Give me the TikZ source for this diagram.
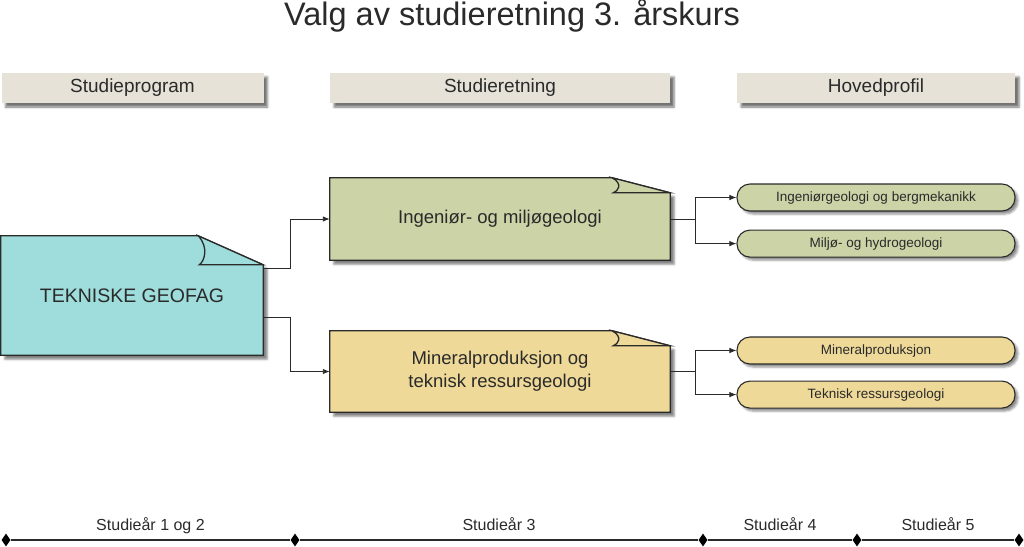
\documentclass[tikz,border=0pt]{standalone}
\usepackage{fontspec}
\setmainfont{Liberation Sans}
\usetikzlibrary{arrows.meta, positioning, shapes.geometric, shadows.blur}
\definecolor{geoteal}{HTML}{9EDDDB}
\definecolor{geoolive}{HTML}{CBD3A7}
\definecolor{geosand}{HTML}{EED999}
\definecolor{hdrbeige}{HTML}{E6E2D8}
\definecolor{inkgray}{HTML}{2A2A2A}
\tikzset{
  hbar/.style={fill=hdrbeige, minimum height=30pt, inner sep=0pt,
               font=\fontsize{19}{22}\selectfont, text=inkgray,
               blur shadow={shadow xshift=4pt, shadow yshift=-4pt,
                            shadow opacity=55, shadow blur steps=4}},
  fbox/.style={minimum height=#1, inner sep=0pt},
  ftext/.style={align=center, text=inkgray, inner sep=0pt},
  fline/.style={draw=inkgray, line width=1.3pt, line join=miter},
  pill/.style={draw=inkgray, line width=1.1pt, rounded corners=13pt,
               minimum width=278pt, minimum height=27pt, inner sep=0pt,
               font=\fontsize{13.5}{16}\selectfont, text=inkgray,
               text height=10pt, text depth=2pt,
               blur shadow={shadow xshift=3pt, shadow yshift=-3pt,
                            shadow opacity=45, shadow blur steps=4}},
  conn/.style={draw=inkgray, line width=0.9pt, -{Latex[length=7pt,width=5.5pt]}},
  tick/.style={diamond, fill=black, inner sep=0pt, minimum width=9pt,
               minimum height=13pt},
  yearlbl/.style={font=\fontsize{16}{18}\selectfont, text=inkgray,
                  text height=11.5pt, text depth=3.5pt},
}
% folded-corner outline around a named node: name, colour, fold width, fold height
\newcommand{\foldpaper}[4]{%
  \path[fline, fill=#2, blur shadow={shadow xshift=4pt, shadow yshift=-4pt,
        shadow opacity=50, shadow blur steps=4}]
    (#1.north west) -- ([xshift=-#3pt]#1.north east)
    -- ([yshift=-#4pt]#1.north east) -- (#1.south east)
    -- (#1.south west) -- cycle;
  \path[fline, fill=#2]
    ([xshift=-#3pt]#1.north east)
    .. controls ([xshift=-#3pt+11pt, yshift=-0.4*#4pt]#1.north east)
       and ([xshift=-#3pt+6pt, yshift=-0.9*#4pt]#1.north east)
    .. ([xshift=-#3pt+1pt, yshift=-#4pt]#1.north east)
    -- ([yshift=-#4pt]#1.north east) -- cycle;}

\begin{document}
\begin{tikzpicture}[x=1pt, y=-1pt]
\useasboundingbox (0,0) rectangle (1024,546);
% ---- title and column headers ----
\node[font=\fontsize{32.5}{36}\selectfont, text=inkgray] (title) at (512,16)
  {Valg av studieretning 3. årskurs};
\node[hbar, minimum width=262pt] (hprog) at (132.5,88) {Studieprogram};
\node[hbar, minimum width=340pt] (hretn) at (500,88) {Studieretning};
\node[hbar, minimum width=278pt] (hprof) at (876,88) {Hovedprofil};
% ---- main boxes: frame nodes, paper outlines, then texts ----
\node[fbox=119pt, minimum width=262pt] (geofag) at (132,295.5) {};
\node[fbox=82pt, minimum width=340pt] (ingmil) at (500,219) {};
\node[fbox=81pt, minimum width=340pt] (minres) at (500,371.5) {};
\foldpaper{geofag}{geoteal}{65}{29}
\foldpaper{ingmil}{geoolive}{58}{15}
\foldpaper{minres}{geosand}{58}{15}
\node[ftext, font=\fontsize{19.5}{23}\selectfont] (geofagtxt) at (geofag)
  {TEKNISKE GEOFAG};
\node[ftext, font=\fontsize{18.5}{23}\selectfont] (ingmiltxt) at (ingmil)
  {Ingeniør- og miljøgeologi};
\node[ftext, font=\fontsize{18.5}{23}\selectfont] (minrestxt) at (minres)
  {Mineralproduksjon og\\ teknisk ressursgeologi};
% ---- main profiles ----
\node[pill, fill=geoolive] (ingberg) at (876,197.5) {Ingeniørgeologi og bergmekanikk};
\node[pill, fill=geoolive, below=18pt of ingberg] (hydro) {Miljø- og hydrogeologi};
\node[pill, fill=geosand] (minprod) at (876,350.5) {Mineralproduksjon};
\node[pill, fill=geosand, below=16pt of minprod] (ressurs) {Teknisk ressursgeologi};
% ---- connectors ----
\draw[conn] ([yshift=27pt]geofag.east) -- ++(27,0) |- (ingmil.west);
\draw[conn] ([yshift=-22pt]geofag.east) -- ++(27,0) |- (minres.west);
\draw[draw=inkgray, line width=0.9pt] (ingmil.east) -- ++(25,0) coordinate (ibr);
\draw[conn] (ibr) |- (ingberg.west);
\draw[conn] (ibr) |- (hydro.west);
\draw[draw=inkgray, line width=0.9pt] (minres.east) -- ++(25,0) coordinate (mbr);
\draw[conn] (mbr) |- (minprod.west);
\draw[conn] (mbr) |- (ressurs.west);
% ---- study year timeline ----
\node[tick] (t0) at (6,540) {};
\node[tick] (t1) at (295,540) {};
\node[tick] (t2) at (703,540) {};
\node[tick] (t3) at (857,540) {};
\node[tick] (t4) at (1019,540) {};
\draw[line width=1.3pt, inkgray]
  (t0) -- node[yearlbl, above=2pt] (y12) {Studieår 1 og 2}
  (t1) -- node[yearlbl, above=2pt] (y3) {Studieår 3}
  (t2) -- node[yearlbl, above=2pt] (y4) {Studieår 4}
  (t3) -- node[yearlbl, above=2pt] (y5) {Studieår 5} (t4);
\end{tikzpicture}
\end{document}
